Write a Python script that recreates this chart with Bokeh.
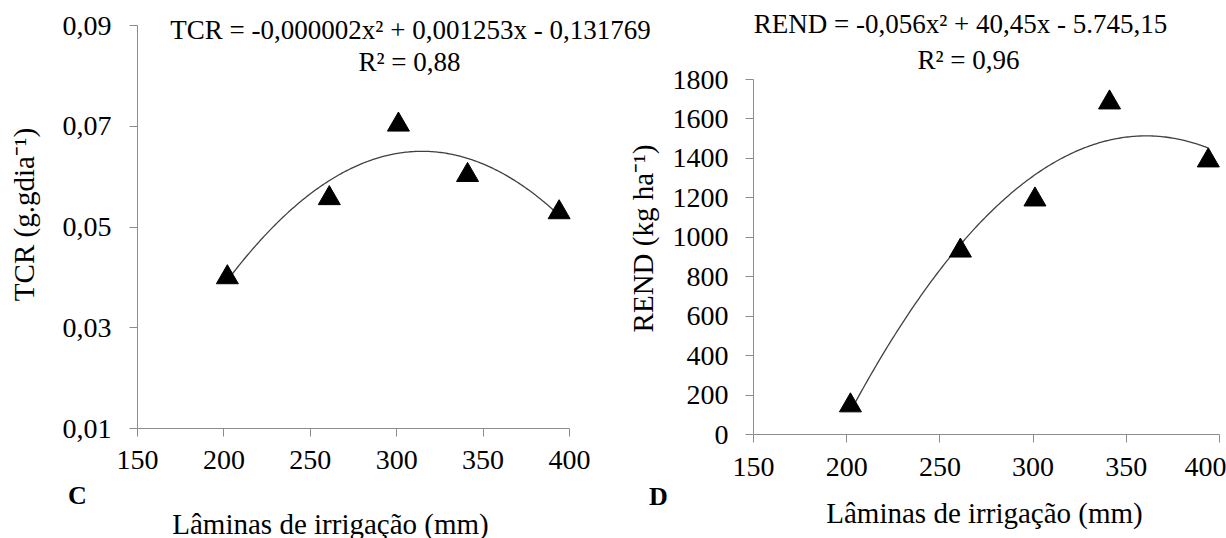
import numpy as np
from bokeh.plotting import figure
from bokeh.models import (Label, FixedTicker, CustomJSTickFormatter, Range1d,
                          LinearAxis)
from bokeh.embed import file_html
from bokeh.resources import INLINE

# ---------------- data ----------------
laminas = [202, 261, 301, 341, 394]          # irrigation depth (mm)
tcr = [0.0400, 0.0557, 0.0703, 0.0603, 0.0529]
rend = [147, 932, 1191, 1683, 1389]

x_ticks = [150, 200, 250, 300, 350, 400]
tcr_ticks = [0.01, 0.03, 0.05, 0.07, 0.09]
rend_ticks = [0, 200, 400, 600, 800, 1000, 1200, 1400, 1600, 1800]

eq_tcr = "TCR = -0,000002x² + 0,001253x - 0,131769"
r2_tcr = "R² = 0,88"
eq_rend = "REND = -0,056x² + 40,45x - 5.745,15"
r2_rend = "R² = 0,96"

xlabel = "Lâminas de irrigação (mm)"
ylabel_tcr = "TCR (g.gdia⁻¹)"
ylabel_rend = "REND (kg ha⁻¹)"

W, H = 1226, 538
FONT = "Times New Roman"
AXC = "#8c8c8c"


def xr(v0, p0, v1, p1):
    """Range whose values v0, v1 sit at canvas pixels p0, p1 (horizontal)."""
    k = (v1 - v0) / (p1 - p0)
    return Range1d(v0 - p0 * k, v0 + (W - p0) * k)


def yr(v0, p0, v1, p1):
    """Range whose values v0, v1 sit at canvas pixels p0, p1 (vertical, from top)."""
    k = (v1 - v0) / (p0 - p1)
    return Range1d(v0 - (H - p0) * k, v0 + p0 * k)


p = figure(width=W, height=H, title=None,
           x_range=Range1d(0, W), y_range=Range1d(H, 0),
           x_axis_type=None, y_axis_type=None,
           output_backend="svg", toolbar_location=None,
           min_border_left=0, min_border_right=0,
           min_border_top=0, min_border_bottom=0)
p.xgrid.visible = False
p.ygrid.visible = False
p.outline_line_color = None
p.background_fill_color = "white"
p.border_fill_color = "white"

p.extra_x_ranges = {"cx": xr(150, 137, 400, 569), "dx": xr(150, 753, 400, 1219)}
p.extra_y_ranges = {"cy": yr(0.01, 428, 0.09, 25), "dy": yr(0, 434, 1800, 79)}


def axis(xn, yn, loc, bounds, ticks, side, standoff, formatter=None):
    ax = LinearAxis(x_range_name=xn, y_range_name=yn, fixed_location=loc,
                    bounds=bounds, ticker=FixedTicker(ticks=ticks))
    if formatter is not None:
        ax.formatter = formatter
    ax.axis_line_color = AXC
    ax.axis_line_width = 1
    ax.major_tick_line_color = AXC
    ax.major_tick_out = 8
    ax.major_tick_in = 0
    ax.minor_tick_line_color = None
    ax.major_label_text_font = FONT
    ax.major_label_text_font_size = "28px"
    ax.major_label_text_color = "black"
    ax.major_label_standoff = standoff
    p.add_layout(ax, side)


def trend(xs, ys):
    c = np.polyfit(xs, ys, 2)
    xx = np.linspace(min(xs), max(xs), 200)
    return xx, np.polyval(c, xx)


# ---------------- left panel (C) ----------------
comma = CustomJSTickFormatter(code="return tick.toFixed(2).replace('.', ',');")
axis("cx", "cy", 0.01, (150, 400), x_ticks, "below", 14)
axis("cx", "cy", 150, (0.01, 0.09), tcr_ticks, "left", 18, comma)
tx, ty = trend(laminas, tcr)
p.line(tx, ty, line_color="#404040", line_width=1.3, x_range_name="cx", y_range_name="cy")
p.scatter(laminas, tcr, marker="triangle", size=22, fill_color="black",
          line_color="black", x_range_name="cx", y_range_name="cy")

# ---------------- right panel (D) ----------------
axis("dx", "dy", 0, (150, 400), x_ticks, "below", 15)
axis("dx", "dy", 150, (0, 1800), rend_ticks, "left", 17)
tx2, ty2 = trend(laminas, rend)
p.line(tx2, ty2, line_color="#404040", line_width=1.3, x_range_name="dx", y_range_name="dy")
p.scatter(laminas, rend, marker="triangle", size=22, fill_color="black",
          line_color="black", x_range_name="dx", y_range_name="dy")


# ---------------- texts (canvas pixel coordinates) ----------------
def txt(x, y, t, size="27px", style_="normal", angle=0):
    p.add_layout(Label(x=x, y=y, text=t, text_font=FONT, text_font_size=size,
                       text_font_style=style_, text_color="black",
                       text_align="center", text_baseline="middle", angle=angle))


txt(410, 29, eq_tcr)
txt(409, 61, r2_tcr)
txt(960, 23, eq_rend)
txt(968, 59, r2_rend)
txt(77, 495, "C", size="26px", style_="bold")
txt(658, 496, "D", size="26px", style_="bold")
txt(330, 523, xlabel, size="29px")
txt(984, 512, xlabel, size="29px")
txt(23, 214, ylabel_tcr, size="29px", angle=np.pi / 2)
txt(642, 238, ylabel_rend, size="29px", angle=np.pi / 2)

open("out.html", "w").write(file_html(p, INLINE))
